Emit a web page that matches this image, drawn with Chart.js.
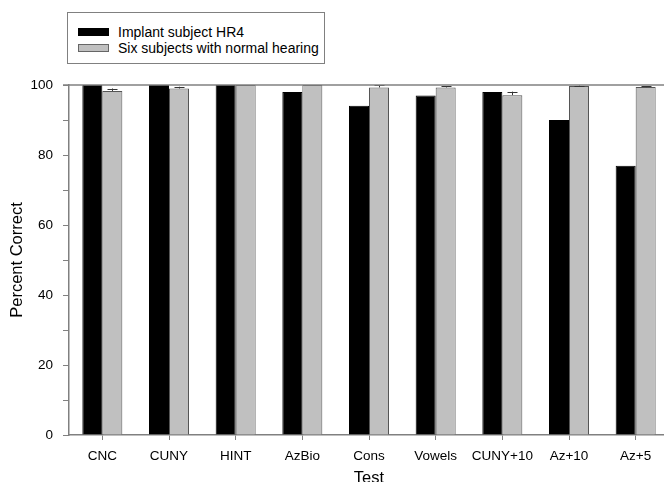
<!DOCTYPE html>
<html>
<head>
<meta charset="utf-8">
<script src="https://cdn.jsdelivr.net/npm/chart.js@4"></script>
<style>
  html, body { margin: 0; padding: 0; background: #fff; overflow: hidden; width: 664px; height: 482px; }
  #wrap { position: absolute; left: 0; top: 0; width: 670px; height: 500px; }
  #legend { position: absolute; left: 67px; top: 12px; width: 258px; height: 52px; border: 1px solid #808080; box-sizing: border-box; font-family: "Liberation Sans", Arial, sans-serif; font-size: 14px; color: #000; background: #fff; }
  .item { position: absolute; left: 10px; height: 16px; line-height: 16px; white-space: nowrap; }
  .sw { display: inline-block; width: 31px; height: 8px; box-sizing: border-box; vertical-align: middle; margin-right: 9px; position: relative; top: -1px; }
</style>
</head>
<body>
<div id="wrap"><canvas id="c" width="670" height="500"></canvas></div>
<div id="legend"></div>
<script>
const categories = ["CNC", "CUNY", "HINT", "AzBio", "Cons", "Vowels", "CUNY+10", "Az+10", "Az+5"];
const implantHR4 = [100, 100, 100, 98, 94.1, 97.0, 98.0, 90.0, 76.9];
const normalHearing = [98.3, 99.0, 100, 100, 99.3, 99.3, 97.1, 99.7, 99.4];
const normalHearingErr = [0.7, 0.5, 0, 0, 0.6, 0.4, 1.0, 0.15, 0.2];
const seriesLabels = ["Implant subject HR4", "Six subjects with normal hearing"];
const yTicks = [0, 20, 40, 60, 80, 100];

const FONT = "'Liberation Sans', Arial, sans-serif";
const AXIS = '#808080';

const errorBarPlugin = {
  id: 'errorBars',
  afterDatasetsDraw(chart) {
    const ctx = chart.ctx;
    const meta = chart.getDatasetMeta(1);
    const y = chart.scales.y;
    ctx.save();
    ctx.strokeStyle = '#333';
    ctx.lineWidth = 1;
    meta.data.forEach((bar, i) => {
      const e = normalHearingErr[i];
      if (!e) return;
      const top = y.getPixelForValue(normalHearing[i] + e);
      const x = Math.round(bar.x) + 0.5;
      ctx.beginPath();
      ctx.moveTo(x, bar.y);
      ctx.lineTo(x, top);
      ctx.moveTo(x - 5, Math.round(top) + 0.5);
      ctx.lineTo(x + 5, Math.round(top) + 0.5);
      ctx.stroke();
    });
    ctx.restore();
  }
};

const frameTopPlugin = {
  id: 'frameTop',
  afterDraw(chart) {
    const {ctx, chartArea} = chart;
    ctx.save();
    ctx.strokeStyle = AXIS;
    ctx.lineWidth = 1.5;
    ctx.beginPath();
    ctx.moveTo(chartArea.left - 6, chartArea.top);
    ctx.lineTo(chart.width, chartArea.top);
    ctx.stroke();
    ctx.restore();
  }
};

const chart = new Chart(document.getElementById('c'), {
  type: 'bar',
  data: {
    labels: categories,
    datasets: [
      { label: seriesLabels[0], data: implantHR4, backgroundColor: '#000000', borderColor: '#000000', borderWidth: 1, categoryPercentage: 0.6, barPercentage: 1.0 },
      { label: seriesLabels[1], data: normalHearing, backgroundColor: '#c0c0c0', borderColor: '#555555', borderWidth: 1, categoryPercentage: 0.6, barPercentage: 1.0 }
    ]
  },
  options: {
    responsive: false,
    devicePixelRatio: 1,
    animation: false,
    layout: { padding: { left: 0, right: 1, top: 85, bottom: 0 } },
    plugins: { legend: { display: false }, tooltip: { enabled: false } },
    scales: {
      x: {
        offset: true,
        grid: { display: true, drawOnChartArea: false, drawTicks: true, tickLength: 5, color: AXIS, offset: false },
        border: { display: true, color: AXIS, width: 1.5 },
        ticks: { color: '#000', font: { family: FONT, size: 13.5 }, padding: 8, maxRotation: 0, autoSkip: false },
        title: { display: true, text: 'Test', color: '#000', font: { family: FONT, size: 16.5 }, padding: { top: 4, bottom: 12 } },
        afterFit(s) { s.height = 65; }
      },
      y: {
        min: 0, max: 100,
        grid: { display: true, drawOnChartArea: false, drawTicks: true, tickLength: 6, color: AXIS },
        border: { display: true, color: AXIS, width: 1.5 },
        ticks: {
          stepSize: 10, color: '#000', font: { family: FONT, size: 13.5 }, padding: 10,
          callback: v => yTicks.includes(v) ? String(v) : ''
        },
        title: { display: true, text: 'Percent Correct', color: '#000', font: { family: FONT, size: 16.5 }, padding: { top: 8, bottom: 4 } },
        afterFit(s) { s.width = 69; }
      }
    }
  },
  plugins: [errorBarPlugin, frameTopPlugin]
});

// HTML legend built from dataset labels/colours
const lg = document.getElementById('legend');
chart.data.datasets.forEach((ds, i) => {
  const it = document.createElement('div');
  it.className = 'item';
  it.style.top = (i === 0 ? 11 : 27) + 'px';
  const sw = document.createElement('span');
  sw.className = 'sw';
  sw.style.background = ds.backgroundColor;
  sw.style.border = '1px solid ' + (i === 0 ? '#000' : '#666');
  it.appendChild(sw);
  it.appendChild(document.createTextNode(ds.label));
  lg.appendChild(it);
});
</script>
</body>
</html>
